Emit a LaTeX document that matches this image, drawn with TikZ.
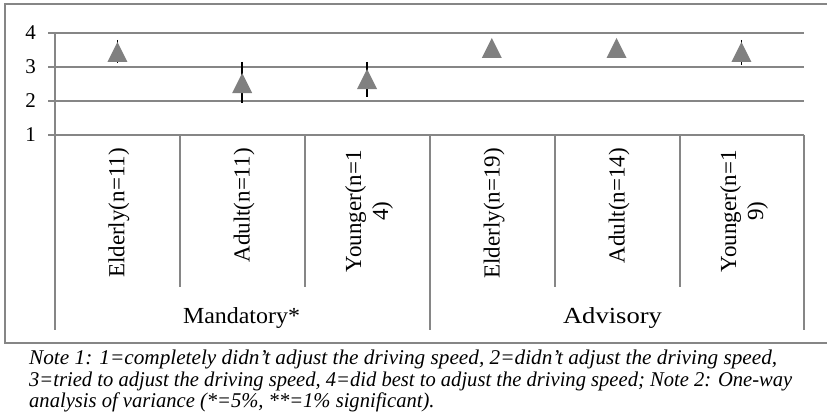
\documentclass[tikz,border=0pt]{standalone}
\usepackage{fontspec}
\setmainfont{Liberation Serif}
\usepackage{graphicx}
\definecolor{axgray}{HTML}{868686}
\definecolor{markgray}{HTML}{808080}
\newsavebox\notelineB
\newlength\notelenB
\begin{document}
\sbox\notelineB{\fontsize{21}{22}\selectfont\itshape 3=tried to adjust the driving speed, 4=did best to adjust the driving speed; Note 2: One-way}%
\setlength\notelenB{\wd\notelineB}%
\pgfmathsetmacro\notescale{763/\notelenB}%
\begin{tikzpicture}[x=1pt,y=-1pt,
  gridline/.style={draw=axgray,line width=1.6pt},
  framebox/.style={draw=axgray,line width=1.6pt},
  errbar/.style={draw=black,line width=1.6pt},
  marker/.style={fill=markgray},
  ylab/.style={anchor=east,inner sep=0pt,font=\fontsize{21}{24}\selectfont},
  catlab/.style={rotate=90,anchor=east,inner sep=0pt,align=center,font=\fontsize{23}{27}\selectfont},
  grouplab/.style={anchor=base,inner sep=0pt,font=\fontsize{23}{27}\selectfont},
  notelab/.style={anchor=base west,inner sep=0pt,font=\fontsize{21}{22}\selectfont\itshape}]
\useasboundingbox (0,0) rectangle (827,420);
\fill[white] (0,0) rectangle (827,420);
% outer frame (right side lies outside the picture)
\draw[framebox] (5,4) rectangle (832,343);
% gridlines and axes
\foreach \yy in {33,67,101} \draw[gridline] (48,\yy) -- (804,\yy);
\draw[gridline] (48,135) -- (804,135);
\draw[gridline] (55,33) -- (55,330);
\draw[gridline] (804,135) -- (804,330);
\draw[gridline] (430,135) -- (430,330);
\foreach \xx in {180,305,555,680} \draw[gridline] (\xx,135) -- (\xx,287);
% y labels
\node[ylab] (y4) at (36,33) {4};
\node[ylab] (y3) at (36,67) {3};
\node[ylab] (y2) at (36,101) {2};
\node[ylab] (y1) at (36,135) {1};
% error bars
\draw[errbar] (117.4,40) -- (117.4,63);
\draw[errbar] (242.2,62) -- (242.2,103);
\draw[errbar] (367,62) -- (367,97);
\draw[errbar] (741.4,40) -- (741.4,65);
% markers
\foreach \cx/\cy in {117.4/52, 242.2/83, 367/79, 491.8/48, 616.6/48, 741.4/52}
  \fill[marker] (\cx,\cy-10) -- (\cx+10,\cy+10) -- (\cx-10,\cy+10) -- cycle;
% category labels
\node[catlab] (c1) at (119,148) {Elderly(n=11)};
\node[catlab] (c2) at (244,148) {Adult(n=11)};
\node[catlab] (c3) at (369,150) {Younger(n=1\\4)};
\node[catlab] (c4) at (494,148) {Elderly(n=19)};
\node[catlab] (c5) at (619,148) {Adult(n=14)};
\node[catlab] (c6) at (744,150) {Younger(n=1\\9)};
% group labels
\node[grouplab] (g1) at (241.5,323) {\resizebox{117pt}{\height}{Mandatory*}};
\node[grouplab] (g2) at (612.5,323) {\resizebox{99pt}{\height}{Advisory}};
% note
\node[notelab] (n1) at (29,364) {\resizebox{748pt}{\height}{Note 1: 1=completely didn’t adjust the driving speed, 2=didn’t adjust the driving speed,}};
\node[notelab] (n2) at (29,386) {\scalebox{\notescale}[1]{3=tried to adjust the driving speed, 4=did best to adjust the driving speed; Note 2: One-way}};
\node[notelab] (n3) at (29,407) {\scalebox{\notescale}[1]{analysis of variance (*=5\%, **=1\% significant).}};
\end{tikzpicture}
\end{document}
